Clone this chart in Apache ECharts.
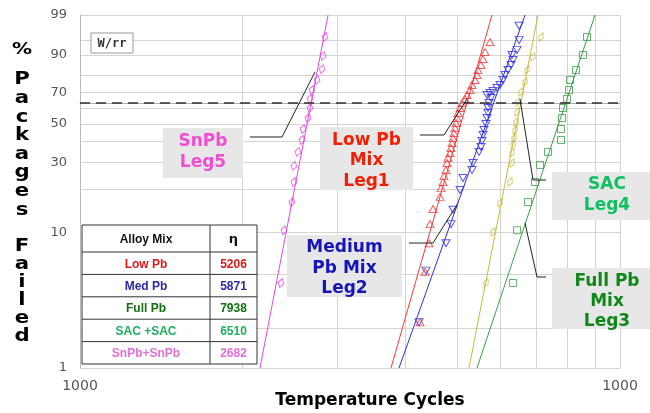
<!DOCTYPE html>
<html><head><meta charset="utf-8">
<script src="https://cdn.jsdelivr.net/npm/echarts@6/dist/echarts.min.js"></script>
<style>html,body{margin:0;padding:0;background:#fff}#c{width:650px;height:413px}</style>
</head><body><div id="c"></div>
<script>
// ---- axes ----
const xTickValues = [1000,2000,3000,4000,5000,6000,7000,8000,9000,10000];
const xLabelValues = [1000,10000];
const xTickLabels = ['1000','1000'];
const yGridPercents = [1,2,5,10,20,30,40,50,60,70,80,90,95,99];
const yLabelPercents = [1,10,30,50,70,90,99];
const charLevel = 63.2;

// ---- data points [cycles, % failed] ----
const snpbPts = [[2356,4.3],[2386,10.4],[2469,16.4],[2490,22.4],[2490,28.5],[2533,34.8],[2577,40.9],[2588,47.1],[2644,53.7],[2666,60.0],[2666,65.8],[2689,71.4],[2747,77.5],[2807,83.5],[2819,89.6],[2843,95.7]];
const lowPbPts = [[4262,2.2],[4354,5.2],[4429,8.4],[4448,11.5],[4505,14.7],[4642,17.8],[4662,20.4],[4702,22.4],[4722,24.5],[4762,26.8],[4783,29.7],[4803,32.0],[4844,34.3],[4865,36.7],[4886,39.3],[4906,42.0],[4927,44.8],[4949,47.7],[4969,50.7],[4991,53.7],[5012,56.8],[5055,60.0],[5098,63.2],[5164,65.8],[5208,68.3],[5275,71.4],[5320,74.5],[5389,77.5],[5435,80.3],[5458,83.0],[5529,85.5],[5576,88.3],[5624,91.1],[5745,94.4]];
const medPbPts = [[4244,2.2],[4372,5.3],[4762,8.4],[4865,11.5],[4906,14.5],[5055,19.8],[5120,23.8],[5320,26.8],[5343,29.7],[5481,34.8],[5529,37.2],[5552,40.4],[5576,43.7],[5600,46.5],[5648,50.1],[5672,53.7],[5696,56.8],[5696,60.0],[5720,63.2],[5770,66.4],[5672,68.3],[5745,69.6],[5819,70.8],[5919,72.7],[5995,74.5],[6072,77.5],[6124,80.3],[6203,83.0],[6284,85.5],[6338,87.9],[6311,90.0],[6447,91.9],[6502,94.9],[6502,97.8]];
const sacPts = [[5648,4.3],[5819,10.1],[5995,16.2],[6257,22.4],[6311,29.7],[6311,34.3],[6338,38.3],[6365,42.0],[6392,46.5],[6419,51.3],[6447,57.5],[6474,63.8],[6557,70.2],[6670,76.3],[6727,83.0],[6901,89.2],[7141,95.7]];
const fullPbPts = [[6338,4.3],[6447,10.4],[6756,16.4],[6960,22.4],[7110,28.9],[7357,34.8],[7776,40.9],[7776,47.1],[7810,53.7],[7843,60.0],[7977,65.8],[8046,71.4],[8081,77.5],[8290,83.0],[8542,90.0],[8688,95.7]];

// ---- Weibull fit lines [cycles, %] ----
const snpbFit = [[2154,1],[2880,99]];
const lowPbFit = [[3766,1],[5794,99]];
const medPbFit = [[3897,1],[6670,99]];
const sacFit = [[5252,1],[7049,99]];
const fullPbFit = [[5435,1],[8990,99]];

// ---- table ----
const tableAlloys = ['Low Pb','Med Pb','Full Pb','SAC +SAC','SnPb+SnPb'];
const tableEta = ['5206','5871','7938','6510','2682'];
const tableColors = ['#e01818','#2a2aa0','#137013','#1fb060','#e070d8'];

function W(p){ return Math.log(-Math.log(1 - p/100)); }
function invW(v){ return 100*(1 - Math.exp(-Math.exp(v))); }
function toXY(arr){ return arr.map(d => [d[0], W(d[1])]); }

const C = {snpb:'#e448dc', low:'#f03a3a', med:'#2e2ee6', sac:'#c4bc3c', full:'#3a9e4a'};

function fitSeries(data, color){
  return {type:'line', data:toXY(data), symbol:'none', lineStyle:{color, width:1}, z:2, animation:false};
}
function ptSeries(data, color, symbol, size, rot){
  return {type:'scatter', data:toXY(data), symbol, symbolSize:size, symbolRotate:rot||0,
    itemStyle:{color:'rgba(255,255,255,0)', borderColor:color, borderWidth:1}, z:3, animation:false};
}

const series = [
  Object.assign(fitSeries(snpbFit, C.snpb), {markLine:{silent:true, symbol:'none', label:{show:false},
      lineStyle:{color:'#333', type:[10,6], width:1.5}, data:[{yAxis: W(charLevel)}]}}),
  fitSeries(lowPbFit, C.low),
  fitSeries(medPbFit, C.med),
  fitSeries(sacFit, C.sac),
  fitSeries(fullPbFit, C.full),
  ptSeries(snpbPts, C.snpb, 'diamond', [6,9], -15),
  ptSeries(medPbPts, C.med, 'triangle', [8,7], 180),
  ptSeries(lowPbPts, C.low, 'triangle', [8,7], 0),
  ptSeries(sacPts, C.sac, 'diamond', [5,9], -25),
  ptSeries(fullPbPts, C.full, 'rect', 7, 0)
];

// ---- graphics ----
const g = [];
const boldFont = (s) => 'bold ' + s + 'px "DejaVu Sans"';
function txt(text, x, y, font, fill, extra){
  return Object.assign({type:'text', silent:true, z:100, x, y, style:{text, x:0, y:0, font, fill,
    align:'center', verticalAlign:'middle', textAlign:'center', textVerticalAlign:'middle'}}, extra||{});
}
// vertical y title
g.push(txt('%', 22, 50, boldFont(16), '#000', {scaleX:1.25}));
'Packages'.split('').forEach((ch,i)=>g.push(txt(ch, 22, 80 + i*18.6, boldFont(17), '#000', {scaleX:1.25})));
'Failed'.split('').forEach((ch,i)=>g.push(txt(ch, 22, 247 + i*18, boldFont(17), '#000', {scaleX:1.25})));
// x title
g.push(txt('Temperature Cycles', 370, 401, boldFont(17), '#000'));
// W/rr box
g.push({type:'rect', z:90, shape:{x:91, y:33, width:42, height:20}, style:{fill:'#fff', stroke:'#999', lineWidth:1}});
g.push(txt('W/rr', 112, 43.5, 'bold 12px "DejaVu Sans Mono"', '#333'));

// annotation boxes
function annot(x, y, w, h, lines, color, cy0, step){
  g.push({type:'rect', z:50, silent:true, shape:{x, y, width:w, height:h}, style:{fill:'#e7e7e7'}});
  lines.forEach((l,i)=>g.push(txt(l, x + w/2, cy0 + i*step, boldFont(17), color)));
}
annot(163,128,80,50,['SnPb','Leg5'],'#f04ed2',141.5,21);
annot(320,127,93,63,['Low Pb','Mix','Leg1'],'#f02008',140.5,20.5);
annot(287,235,115,62,['Medium','Pb Mix','Leg2'],'#1616b8',248,20.5);
annot(552,172,110,48,['SAC','Leg4'],'#10c060',185,21);
annot(552,268,110,61,['Full Pb','Mix','Leg3'],'#108818',282,20);

function pline(points){
  g.push({type:'polyline', z:60, silent:true, shape:{points}, style:{stroke:'#222', lineWidth:1, fill:null}});
}
pline([[250,137],[282,137],[315,72]]);
pline([[420,135],[444,135],[467,99]]);
pline([[409,243],[433,243],[458,203]]);
pline([[546,180],[533,180],[520,99]]);
pline([[546,277],[537,277],[525,223]]);

// table
const tx = 82, tw1 = 128, tw2 = 47, th0 = 27, th = 22.4, ty = 225;
g.push({type:'rect', z:80, shape:{x:tx, y:ty, width:tw1+tw2, height:th0+th*5}, style:{fill:'#fff', stroke:'#333', lineWidth:1}});
g.push({type:'line', z:81, shape:{x1:tx+tw1, y1:ty, x2:tx+tw1, y2:ty+th0+th*5}, style:{stroke:'#333', lineWidth:1}});
for (let i=0;i<5;i++){
  const yy = ty + th0 + th*i;
  g.push({type:'line', z:81, shape:{x1:tx, y1:yy, x2:tx+tw1+tw2, y2:yy}, style:{stroke:'#333', lineWidth:1}});
}
g.push(txt('Alloy Mix', tx+tw1/2, ty+th0/2+1, 'bold 12px "Liberation Sans"', '#111', {z:85}));
g.push(txt('\u03b7', tx+tw1+tw2/2, ty+th0/2+1, 'bold 13px "DejaVu Sans"', '#111', {z:85}));
tableAlloys.forEach((a,i)=>{
  const yy = ty + th0 + th*i + th/2 + 1;
  g.push(txt(a, tx+tw1/2, yy, 'bold 12px "Liberation Sans"', tableColors[i], {z:85}));
  g.push(txt(tableEta[i], tx+tw1+tw2/2, yy, 'bold 12px "Liberation Sans"', tableColors[i], {z:85}));
});

const option = {
  backgroundColor:'#fff',
  animation:false,
  grid:{left:80, right:30, top:15, bottom:45, containLabel:false},
  xAxis:{type:'log', logBase:10, min:1000, max:10000,
    axisLine:{show:true, lineStyle:{color:'#aaa'}},
    axisTick:{show:false, customValues:xTickValues},
    splitLine:{show:true, lineStyle:{color:'#d4d4d4', width:1}},
    minorSplitLine:{show:false},
    axisLabel:{customValues:xLabelValues, margin:11, color:'#555', fontFamily:'DejaVu Sans', fontSize:14,
      formatter:(v)=>{ const i = xLabelValues.findIndex(t=>Math.abs(t-v)<1e-6); return i>=0 ? xTickLabels[i] : ''; }}
  },
  yAxis:{type:'value', min:W(1), max:W(99),
    axisLine:{show:true, lineStyle:{color:'#bbb'}},
    axisTick:{show:false, customValues:yGridPercents.map(W)},
    splitLine:{show:true, lineStyle:{color:'#d4d4d4', width:1}},
    axisLabel:{customValues:yLabelPercents.map(W), margin:13, color:'#555', fontFamily:'DejaVu Sans', fontSize:13,
      formatter:(v)=>String(Math.round(invW(v)))}
  },
  series,
  graphic:{elements:g}
};
const chart = echarts.init(document.getElementById('c'), null, {renderer:'canvas'});
chart.setOption(option);
</script></body></html>
